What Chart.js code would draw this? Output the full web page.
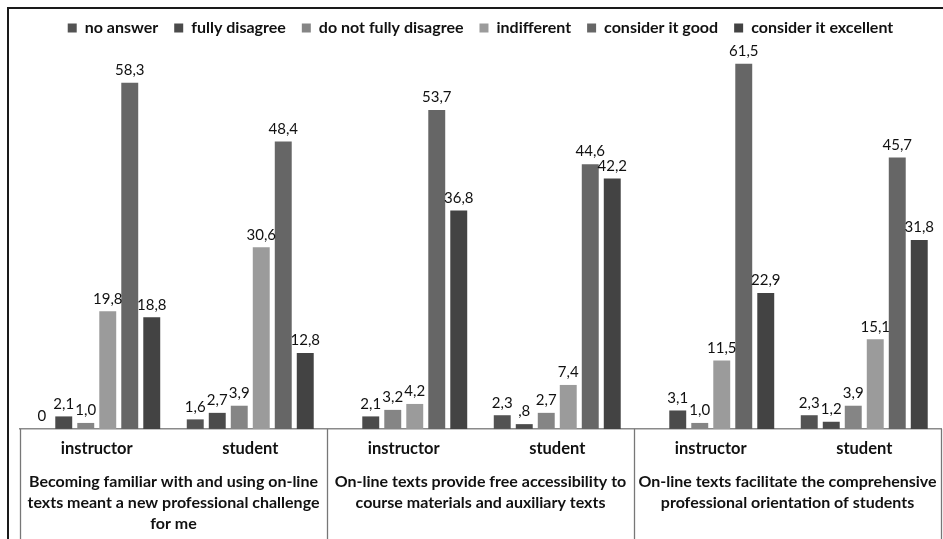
<!DOCTYPE html>
<html>
<head>
<meta charset="utf-8">
<script src="https://cdn.jsdelivr.net/npm/chart.js@4"></script>
<style>
  html, body { margin: 0; padding: 0; background: #fff; }
  #wrap { position: relative; width: 943px; height: 539px; overflow: hidden; }
  #frame { position: absolute; left: 7px; top: 7px; width: 1000px; height: 600px;
           border-left: 2px solid #1a1a1a; border-top: 2px solid #1a1a1a; }
  #chart { position: absolute; left: 0; top: 0; }
</style>
</head>
<body>
<div id="wrap">
  <div id="frame"></div>
  <canvas id="chart" width="943" height="539"></canvas>
</div>
<script>
const categories = ["instructor", "student", "instructor", "student", "instructor", "student"];
const groups = [
  ["Becoming familiar with and using on-line", "texts meant a new professional challenge", "for me"],
  ["On-line texts provide free accessibility to", "course materials and auxiliary texts"],
  ["On-line texts facilitate the comprehensive", "professional orientation of students"]
];
const seriesNames = ["no answer", "fully disagree", "do not fully disagree", "indifferent", "consider it good", "consider it excellent"];
const noAnswer = [0, 1.6, null, 2.3, null, 2.3];
const fullyDisagree = [2.1, 2.7, 2.1, 0.8, 3.1, 1.2];
const notFullyDisagree = [1.0, 3.9, 3.2, 2.7, 1.0, 3.9];
const indifferent = [19.8, 30.6, 4.2, 7.4, 11.5, 15.1];
const good = [58.3, 48.4, 53.7, 44.6, 61.5, 45.7];
const excellent = [18.8, 12.8, 36.8, 42.2, 22.9, 31.8];
const colors = ["#535353", "#4b4b4b", "#858585", "#9b9b9b", "#666666", "#434343"];

const fontFamily = "Lato, 'Open Sans', sans-serif";

function fmt(v) {
  if (v === 0) return "0";
  let s = v.toFixed(1).replace(".", ",");
  if (s.startsWith("0,")) s = s.slice(1);
  return s;
}

// value labels above the bars
const valueLabels = {
  id: "valueLabels",
  afterDatasetsDraw(chart) {
    const ctx = chart.ctx;
    ctx.save();
    ctx.font = "15px " + fontFamily;
    ctx.fillStyle = "#111";
    ctx.textAlign = "center";
    ctx.textBaseline = "bottom";
    chart.data.datasets.forEach((ds, i) => {
      const meta = chart.getDatasetMeta(i);
      meta.data.forEach((bar, j) => {
        const v = ds.data[j];
        if (v === null || v === undefined) return;
        ctx.fillText(fmt(v), bar.x, bar.y - 5);
      });
    });
    ctx.restore();
  }
};

// vertical separators between the question groups
const groupLines = {
  id: "groupLines",
  afterDraw(chart) {
    const x = chart.scales.x;
    const ctx = chart.ctx;
    ctx.save();
    ctx.strokeStyle = "#777";
    ctx.lineWidth = 1.3;
    for (let i = 0; i <= categories.length; i += 2) {
      const px = Math.round(x.getPixelForValue(i - 0.5)) + 0.5;
      ctx.beginPath();
      ctx.moveTo(px, x.top);
      ctx.lineTo(px, chart.height);
      ctx.stroke();
    }
    ctx.restore();
  }
};

const seriesData = [noAnswer, fullyDisagree, notFullyDisagree, indifferent, good, excellent];

new Chart(document.getElementById("chart"), {
  type: "bar",
  data: {
    labels: categories,
    datasets: seriesNames.map((name, i) => ({
      label: name,
      data: seriesData[i],
      backgroundColor: colors[i],
      borderWidth: 0,
      categoryPercentage: 0.86,
      barPercentage: 0.77,
      xAxisID: "x",
    })),
  },
  options: {
    responsive: false,
    animation: false,
    layout: { padding: { left: 20, right: 2, top: 4, bottom: 2 } },
    plugins: {
      legend: {
        position: "top",
        labels: {
          color: "#111",
          font: { family: fontFamily, size: 16, weight: "bold" },
          boxWidth: 9,
          boxHeight: 9,
          padding: 16,
        },
      },
      tooltip: { enabled: false },
    },
    scales: {
      y: { display: false, min: 0, max: 64.5 },
      x: {
        type: "category",
        position: "bottom",
        grid: { display: false, drawTicks: false },
        border: { display: true, color: "#8a8a8a", width: 1.5 },
        ticks: {
          color: "#111",
          font: { family: fontFamily, size: 16.5, weight: "bold" },
          padding: 10,
          maxRotation: 0,
          minRotation: 0,
          autoSkip: false,
        },
      },
      x2: {
        type: "category",
        position: "bottom",
        labels: groups,
        offset: true,
        grid: { display: false, drawTicks: false },
        border: { display: false },
        ticks: {
          color: "#111",
          font: { family: fontFamily, size: 16, weight: "bold", lineHeight: 1.34 },
          padding: 2,
          maxRotation: 0,
          minRotation: 0,
          autoSkip: false,
        },
      },
    },
  },
  plugins: [valueLabels, groupLines],
});
</script>
</body>
</html>
